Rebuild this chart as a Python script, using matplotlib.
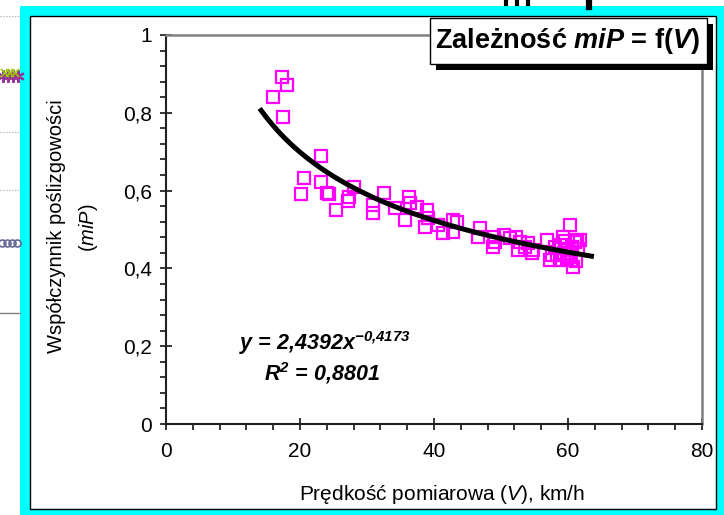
import numpy as np
import matplotlib
matplotlib.use('Agg')
import matplotlib.pyplot as plt
from matplotlib.patches import Rectangle
from matplotlib.lines import Line2D
from matplotlib.ticker import MultipleLocator, FuncFormatter

plt.rcParams['font.family'] = 'sans-serif'
plt.rcParams['font.sans-serif'] = ['Liberation Sans', 'DejaVu Sans']
plt.rcParams['mathtext.fontset'] = 'custom'
plt.rcParams['mathtext.rm'] = 'Liberation Sans'
plt.rcParams['mathtext.it'] = 'Liberation Sans:italic'
plt.rcParams['mathtext.bf'] = 'Liberation Sans:bold'
plt.rcParams['mathtext.bfit'] = 'Liberation Sans:italic:bold'

# measured speed V [km/h] and skid coefficient miP
speed = [17.3, 18.0, 15.9, 17.5, 23.1, 20.6, 20.1, 23.1, 24.3, 25.3, 28.0, 27.3, 27.1,
         24.0, 30.9, 30.9, 32.5, 34.2, 36.2, 36.4, 37.4, 35.7, 38.9, 39.1, 38.7, 40.6,
         41.4, 42.9, 42.9, 43.4, 46.9, 46.6, 48.8, 48.9, 49.1, 50.4, 51.3, 52.3, 52.6,
         52.8, 53.6, 54.1, 54.6, 54.8, 56.8, 57.3, 57.6, 58.1, 58.3, 58.8, 59.3, 59.6,
         59.8, 60.0, 60.3, 60.5, 60.8, 61.0, 61.3, 61.8, 60.3, 59.0, 60.2, 61.2, 60.6,
         59.4, 61.5]
mip = [0.891, 0.871, 0.841, 0.790, 0.690, 0.632, 0.591, 0.621, 0.591, 0.550, 0.610, 0.584, 0.572,
       0.594, 0.563, 0.542, 0.595, 0.555, 0.584, 0.567, 0.559, 0.524, 0.550, 0.529, 0.507, 0.512,
       0.490, 0.524, 0.494, 0.520, 0.503, 0.481, 0.456, 0.481, 0.469, 0.486, 0.477, 0.481, 0.447,
       0.469, 0.456, 0.465, 0.439, 0.447, 0.473, 0.422, 0.434, 0.456, 0.434, 0.422, 0.481, 0.470,
       0.426, 0.447, 0.512, 0.422, 0.404, 0.469, 0.473, 0.473, 0.440, 0.460, 0.430, 0.420, 0.455,
       0.440, 0.450]

# power trendline y = a * x^b
fit_a = 2.4392
fit_b = -0.4173
fit_r2 = 0.8801
fit_start, fit_end = 14.2, 63.5

W, H = 724, 515
fig = plt.figure(figsize=(W / 100, H / 100), dpi=100)
fig.patch.set_facecolor('white')


def fx(p):
    return p / W


def fy(p):
    return 1 - p / H


def dec(v):
    return f'{round(v, 6):g}'.replace('.', ',')


def fig_line(xs, ys, **kw):
    fig.add_artist(Line2D([fx(p) for p in xs], [fy(p) for p in ys],
                          transform=fig.transFigure, **kw))


# cyan frame and white chart panel
fig.add_artist(Rectangle((fx(20), 0), 1 - fx(20), fy(6), transform=fig.transFigure,
                         facecolor='#00ffff', edgecolor='none', zorder=-3))
fig.add_artist(Rectangle((fx(30), fy(509)), fx(716) - fx(30), fy(16) - fy(509),
                         transform=fig.transFigure, facecolor='white', edgecolor='black',
                         lw=1, zorder=-2))

# bits of the neighbouring chart on the left and at the top
for yy in (16, 132, 190):
    fig_line([0, 20], [yy, yy], color='#a0a0a0', lw=0.8, ls=':')
fig_line([0, 20], [313, 313], color='#808080', lw=1)
fig_line([3, 8, 13, 18], [76] * 4, ls='none', marker=(6, 2, 0), ms=9, mew=1.5,
         color='#993399')
fig_line([5, 10, 15], [73] * 3, ls='none', marker='x', ms=6, mew=1.2, color='#99cc00')
fig_line([2, 7, 12, 17], [243] * 4, ls='none', marker='o', ms=5, mew=1.2,
         mfc='none', mec='#666699')
for xx in (506, 517, 528):
    fig_line([xx, xx], [0, 4], color='black', lw=3)
fig_line([589, 589], [0, 7], color='black', lw=4.5)

ax = fig.add_axes([fx(166), fy(424), fx(702) - fx(166), fy(35) - fy(424)])
ax.set_facecolor('white')

ax.plot(speed, mip, ls='none', marker='s', ms=9, mfc='none', mec='#ff00ff', mew=1.6,
        zorder=3, clip_on=False)

xs = np.linspace(fit_start, fit_end, 200)
ax.plot(xs, fit_a * xs ** fit_b, color='black', lw=3.6, zorder=4)

ax.set_xlim(0, 80)
ax.set_ylim(0, 1)
ax.xaxis.set_major_locator(MultipleLocator(20))
ax.xaxis.set_minor_locator(MultipleLocator(4))
ax.yaxis.set_major_locator(MultipleLocator(0.2))
ax.yaxis.set_minor_locator(MultipleLocator(0.04))
ax.xaxis.set_major_formatter(FuncFormatter(lambda v, p: dec(v)))
ax.yaxis.set_major_formatter(FuncFormatter(lambda v, p: dec(v)))

for side in ('left', 'bottom'):
    ax.spines[side].set_color('#202020')
    ax.spines[side].set_linewidth(1.5)
for side in ('top', 'right'):
    ax.spines[side].set_color('#808080')
    ax.spines[side].set_linewidth(1.8)

ax.tick_params(which='major', direction='inout', length=8, width=1.1, colors='black',
               labelsize=15)
ax.tick_params(which='minor', direction='out', length=4, width=1.1, colors='black')
ax.tick_params(axis='x', which='major', pad=9)
ax.tick_params(axis='y', which='major', pad=6)

# axis titles
fig.text(fx(57), fy(226), 'Współczynnik poślizgowości', rotation=90,
         ha='center', va='center', fontsize=14.5)
fig.text(fx(88), fy(228), '($\\mathit{miP}$)', rotation=90,
         ha='center', va='center', fontsize=14.5)
fig.text(fx(442), fy(494), 'Prędkość pomiarowa ($\\mathit{V}$), km/h',
         ha='center', va='center', fontsize=15)

# trendline equation
eq = 'y = ' + dec(fit_a) + 'x$^{\\mathbfit{' + dec(fit_b).replace(',', '{,}') + '}}$'
fig.text(fx(325), fy(343), eq, ha='center', va='center', fontsize=15.5,
         fontweight='bold', style='italic')
fig.text(fx(322), fy(373), 'R$^{\\mathbfit{2}}$ = ' + dec(fit_r2), ha='center',
         va='center', fontsize=15.5, fontweight='bold', style='italic')

# chart title with drop shadow
fig.add_artist(Rectangle((fx(436), fy(70)), fx(713) - fx(436), fy(24) - fy(70),
                         transform=fig.transFigure, facecolor='black', edgecolor='none',
                         zorder=4))
fig.add_artist(Rectangle((fx(430), fy(64)), fx(707) - fx(430), fy(18) - fy(64),
                         transform=fig.transFigure, facecolor='white', edgecolor='black',
                         lw=1, zorder=5))
fig.text(fx(568), fy(41), 'Zależność $\\mathbfit{miP}$ = f($\\mathbfit{V}$)',
         ha='center', va='center', fontsize=19.5, fontweight='bold', zorder=6)

fig.savefig('out.png', dpi=100)
